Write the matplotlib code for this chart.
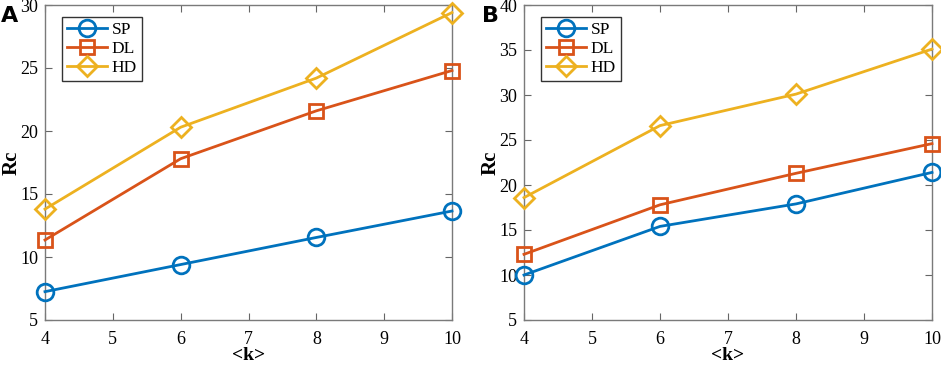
import numpy as np
import matplotlib.pyplot as plt

# =====================
# datos
# =====================

k = [4, 6, 8, 10]
labels = ["SP", "DL", "HD"]

sp_a = [7.25, 9.4, 11.55, 13.65]
dl_a = [11.35, 17.8, 21.6, 24.8]
hd_a = [13.8, 20.3, 24.2, 29.4]

sp_b = [10.0, 15.4, 17.9, 21.4]
dl_b = [12.3, 17.8, 21.3, 24.6]
hd_b = [18.6, 26.6, 30.1, 35.1]

ylim_a = (5, 30)
ylim_b = (5, 40)

colors = ["#0072BD", "#D95319", "#EDB120"]
markers = ["o", "s", "D"]
msizes = [12, 10, 10.5]

plt.rcParams['font.family'] = ['Liberation Serif', 'DejaVu Serif']

fig = plt.figure(figsize=(9.41, 3.65), dpi=100)
ax_a = fig.add_axes([45/941, 45/365, 407/941, 315/365])
ax_b = fig.add_axes([524/941, 45/365, 408/941, 315/365])


def panel(ax, series, ylim):
    for y, c, m, ms, lab in zip(series, colors, markers, msizes, labels):
        ax.plot(k, y, color=c, marker=m, markersize=ms,
                markerfacecolor="none", markeredgewidth=2, linewidth=2,
                label=lab, clip_on=False, zorder=3)
    ax.set_xlim(4, 10)
    ax.set_ylim(*ylim)
    ax.set_xticks(range(4, 11))
    ax.set_yticks(np.arange(ylim[0], ylim[1] + 1, 5))
    ax.tick_params(direction="in", top=True, right=True, labelsize=13,
                   color="#666666", length=5)
    ax.tick_params(axis="x", pad=8)
    ax.tick_params(axis="y", pad=5)
    for s in ax.spines.values():
        s.set_color("#7a7a7a")
        s.set_linewidth(1)
    ax.set_xlabel("<k>", fontsize=14, fontweight="bold")
    ax.set_ylabel("Rc", fontsize=15, fontweight="bold")
    ax.xaxis.set_label_coords(0.5, -0.086)
    ax.yaxis.set_label_coords(-0.058, 0.5)
    leg = ax.legend(loc="upper left", bbox_to_anchor=(0.042, 0.962),
                    fontsize=12.5, handlelength=2.3, borderpad=0.3,
                    labelspacing=0.15, handletextpad=0.25, fancybox=False,
                    framealpha=1, borderaxespad=0)
    leg.get_frame().set_edgecolor("#333333")
    leg.get_frame().set_linewidth(1)


panel(ax_a, [sp_a, dl_a, hd_a], ylim_a)
panel(ax_b, [sp_b, dl_b, hd_b], ylim_b)

fig.text(1/941, 1 - 22/365, "A", fontsize=16, fontweight="bold", family="DejaVu Sans")
fig.text(482/941, 1 - 22/365, "B", fontsize=16, fontweight="bold", family="DejaVu Sans")

fig.savefig("out.png", dpi=100)
